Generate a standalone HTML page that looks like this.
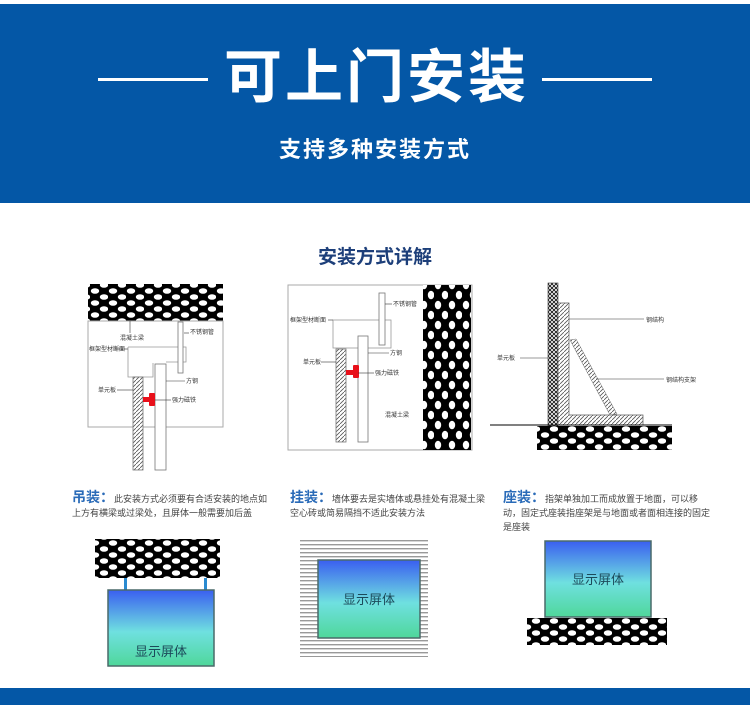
<!DOCTYPE html>
<html><head><meta charset="utf-8"><style>
html,body{margin:0;padding:0;background:#fff;}
body{width:750px;height:711px;position:relative;overflow:hidden;font-family:"Liberation Sans","Noto Sans CJK SC",sans-serif;}
.hdr{position:absolute;left:0;top:4px;width:750px;height:199px;background:#0457a6;}
.t1{position:absolute;left:0;width:750px;top:44px;text-align:center;color:#fff;font-size:58px;font-weight:bold;line-height:68px;letter-spacing:3px;text-indent:3px;}
.t2{position:absolute;left:0;width:750px;top:135px;text-align:center;color:#fff;font-size:22px;font-weight:bold;line-height:30px;letter-spacing:2px;}
.ln{position:absolute;top:78px;height:3px;background:#fff;width:110px;z-index:2;}
.bar{position:absolute;left:0;top:688px;width:750px;height:17px;background:#0457a6;}
.sub{position:absolute;left:0;width:750px;top:242px;text-align:center;color:#1d3f7a;font-size:19px;font-weight:bold;}
.d{position:absolute;font-size:9px;color:#444;line-height:14px;}
.d b{color:#2a6bb8;font-size:14px;font-weight:bold;}
svg{position:absolute;left:0;top:0;}
</style></head><body>
<div class="hdr"></div>
<div class="t1">可上门安装</div>
<div class="t2">支持多种安装方式</div>
<div class="ln" style="left:98px"></div>
<div class="ln" style="left:542px"></div>
<div class="sub">安装方式详解</div>
<div class="bar"></div>
<svg width="750" height="711" viewBox="0 0 750 711" font-family="Liberation Sans, Noto Sans CJK SC, sans-serif">
<defs>
<pattern id="c" width="18" height="12" patternUnits="userSpaceOnUse">
<rect width="18" height="12" fill="#000"/>
<ellipse cx="5" cy="3" rx="4.2" ry="2.8" fill="#fff"/>
<ellipse cx="14" cy="9" rx="4.2" ry="2.8" fill="#fff"/>
</pattern>
<pattern id="cv" width="14" height="20" patternUnits="userSpaceOnUse">
<rect width="14" height="20" fill="#000"/>
<ellipse cx="4" cy="5" rx="3.2" ry="4.3" fill="#fff"/>
<ellipse cx="11" cy="15" rx="3.2" ry="4.3" fill="#fff"/>
</pattern>
<pattern id="h" width="4" height="4" patternUnits="userSpaceOnUse">
<rect width="4" height="4" fill="#fff"/><path d="M0 4L4 0" stroke="#555" stroke-width="0.8"/>
</pattern>
<pattern id="x" width="4" height="4" patternUnits="userSpaceOnUse">
<rect width="4" height="4" fill="#fff"/><path d="M0 4L4 0M0 0L4 4" stroke="#111" stroke-width="0.9"/>
</pattern>
<pattern id="st" width="10" height="4" patternUnits="userSpaceOnUse">
<rect width="10" height="4" fill="#fff"/><rect width="10" height="1.4" fill="#999"/>
</pattern>
<linearGradient id="g" x1="0" y1="0" x2="0" y2="1">
<stop offset="0" stop-color="#3a5ff0"/><stop offset="0.55" stop-color="#6fe0e0"/><stop offset="1" stop-color="#4fd79a"/>
</linearGradient>
</defs>
<!-- diagram 1 -->
<rect x="88" y="284" width="135" height="37" fill="url(#c)"/>
<rect x="88" y="321" width="135" height="106" fill="none" stroke="#aaa" stroke-width="1"/>
<polyline points="128,347 186,347 186,362 166,362" fill="none" stroke="#999" stroke-width="0.8"/>
<polyline points="128,347 128,377 153,377 153,363" fill="none" stroke="#999" stroke-width="0.8"/>
<rect x="178" y="322" width="5" height="51" fill="#fff" stroke="#777" stroke-width="0.8"/>
<rect x="133" y="377" width="10" height="93" fill="url(#h)" stroke="#777" stroke-width="0.8"/>
<rect x="155" y="364" width="11" height="106" fill="#fff" stroke="#777" stroke-width="0.8"/>
<rect x="143" y="397" width="12" height="5" fill="#e8101a"/><rect x="149" y="393" width="6" height="13" rx="1" fill="#e8101a"/>
<g font-size="6" fill="#333">
<text x="120" y="340">混凝土梁</text>
<text x="190" y="334">不锈钢管</text>
<text x="89" y="351">框架型材断面</text>
<text x="98" y="392">单元板</text>
<text x="186" y="383">方钢</text>
<text x="172" y="402">强力磁铁</text></g>
<g stroke="#333" stroke-width="0.6">
<line x1="130" y1="321" x2="130" y2="333"/><line x1="184" y1="333" x2="189" y2="333"/>
<line x1="115" y1="349" x2="128" y2="349"/><line x1="117" y1="390" x2="133" y2="390"/>
<line x1="166" y1="381" x2="185" y2="381"/><line x1="155" y1="400" x2="171" y2="400"/></g>
<!-- diagram 2 -->
<rect x="288" y="285" width="184" height="165" fill="none" stroke="#aaa" stroke-width="1"/>
<rect x="423" y="285" width="48" height="165" fill="url(#cv)"/>
<rect x="333" y="320" width="58" height="28" fill="none" stroke="#999" stroke-width="0.8"/>
<rect x="379" y="293" width="6" height="52" fill="#fff" stroke="#777" stroke-width="0.8"/>
<rect x="336" y="349" width="10" height="93" fill="url(#h)" stroke="#777" stroke-width="0.8"/>
<rect x="358" y="336" width="10" height="106" fill="#fff" stroke="#777" stroke-width="0.8"/>
<rect x="346" y="370" width="12" height="5" fill="#e8101a"/><rect x="353" y="365" width="6" height="13" rx="1" fill="#e8101a"/>
<g font-size="6" fill="#333">
<text x="393" y="306">不锈钢管</text>
<text x="290" y="322">框架型材断面</text>
<text x="303" y="364">单元板</text>
<text x="390" y="355">方钢</text>
<text x="375" y="375">强力磁铁</text>
<text x="385" y="417">混凝土梁</text></g>
<g stroke="#333" stroke-width="0.6">
<line x1="385" y1="304" x2="392" y2="304"/><line x1="328" y1="320" x2="333" y2="320"/>
<line x1="321" y1="362" x2="336" y2="362"/><line x1="368" y1="353" x2="389" y2="353"/>
<line x1="358" y1="373" x2="374" y2="373"/></g>
<!-- diagram 3 -->
<rect x="548" y="283" width="10" height="143" fill="url(#x)" stroke="#333" stroke-width="0.6"/>
<polygon points="558,303 569,303 569,415 643,415 643,425 558,425" fill="url(#h)" stroke="#555" stroke-width="0.7"/>
<polygon points="570,340 576,339 617,414 610,415" fill="url(#h)" stroke="#666" stroke-width="0.5"/>
<line x1="490" y1="425" x2="672" y2="425" stroke="#000" stroke-width="1"/>
<rect x="537" y="426" width="135" height="24" fill="url(#c)"/>
<g font-size="6" fill="#333"><text x="646" y="322">钢结构</text><text x="497" y="360">单元板</text><text x="666" y="382">钢结构支架</text></g>
<g stroke="#333" stroke-width="0.6"><line x1="569" y1="319" x2="644" y2="319"/><line x1="520" y1="358" x2="548" y2="358"/><line x1="596" y1="379" x2="664" y2="379"/></g>
<!-- bottom 1 -->
<rect x="95" y="539" width="125" height="39" fill="url(#c)"/>
<rect x="124" y="578" width="3" height="12" fill="#2a8ad0"/><rect x="204" y="578" width="3" height="12" fill="#2a8ad0"/>
<rect x="108" y="590" width="106" height="76" fill="url(#g)" stroke="#4a6a6a" stroke-width="1.5"/>
<text x="161" y="656" font-size="13" fill="#1c4a5a" text-anchor="middle">显示屏体</text>
<!-- bottom 2 -->
<rect x="300" y="540" width="128" height="117" fill="url(#st)"/>
<rect x="318" y="560" width="102" height="78" fill="url(#g)" stroke="#4a6a6a" stroke-width="1.5"/>
<text x="369" y="604" font-size="13" fill="#1c4a5a" text-anchor="middle">显示屏体</text>
<!-- bottom 3 -->
<rect x="545" y="541" width="106" height="76" fill="url(#g)" stroke="#4a6a6a" stroke-width="1.5"/>
<text x="598" y="584" font-size="13" fill="#1c4a5a" text-anchor="middle">显示屏体</text>
<rect x="527" y="618" width="140" height="27" fill="url(#c)"/>
</svg>
<div class="d" style="left:72px;top:490px;width:195px"><b>吊装：</b>此安装方式必须要有合适安装的地点如上方有横梁或过梁处，且屏体一般需要加后盖</div>
<div class="d" style="left:290px;top:490px;width:195px"><b>挂装：</b>墙体要去是实墙体或悬挂处有混凝土梁空心砖或简易隔挡不适此安装方法</div>
<div class="d" style="left:503px;top:490px;width:212px"><b>座装：</b>指架单独加工而成放置于地面，可以移动，固定式座装指座架是与地面或者面相连接的固定是座装</div>
</body></html>
